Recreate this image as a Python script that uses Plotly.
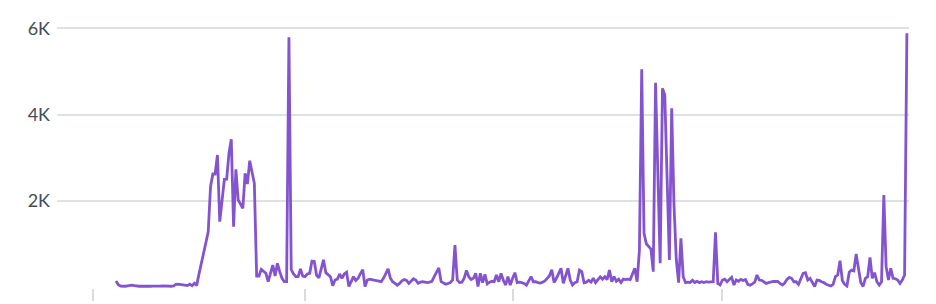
import pandas as pd
import plotly.graph_objects as go

start_date = "2022-10-11"
values = [
    137, 50, 20, 10, 15, 25, 35, 40, 30, 15,
    15, 20, 15, 25, 20, 15, 20, 15, 15, 20,
    25, 20, 25, 20, 15, 25, 60, 65, 55, 60,
    50, 30, 65, 30, 85, 35, 300, 560, 850, 1030,
    1280, 2325, 2620, 2620, 3060, 1513, 2000, 2496, 2500, 3100,
    3424, 1397, 2728, 2016, 1920, 1823, 2635, 2387, 2928, 2650,
    2403, 253, 253, 408, 360, 316, 121, 353, 508, 253,
    547, 353, 200, 121, 121, 5790, 400, 300, 237, 237,
    420, 250, 237, 300, 316, 600, 590, 270, 210, 420,
    630, 330, 290, 237, 30, 160, 180, 300, 200, 300,
    340, 10, 121, 237, 150, 200, 310, 400, 10, 160,
    180, 165, 160, 150, 130, 120, 200, 300, 420, 200,
    121, 80, 40, 82, 140, 170, 150, 82, 150, 190,
    160, 83, 110, 121, 110, 100, 110, 130, 237, 330,
    440, 121, 80, 60, 80, 100, 160, 972, 160, 100,
    110, 200, 380, 237, 170, 200, 315, 10, 315, 100,
    290, 70, 110, 130, 120, 276, 120, 315, 150, 44,
    237, 40, 200, 330, 100, 110, 100, 80, 40, 130,
    237, 120, 120, 100, 90, 110, 140, 199, 260, 400,
    100, 200, 300, 431, 83, 250, 431, 160, 44, 100,
    120, 392, 355, 97, 110, 155, 110, 200, 100, 170,
    235, 180, 237, 170, 392, 120, 240, 130, 180, 100,
    180, 170, 180, 170, 315, 431, 120, 850, 5048, 1243,
    1000, 950, 880, 353, 4738, 2640, 547, 4607, 4452, 2540,
    624, 4143, 1900, 624, 97, 1127, 237, 97, 110, 100,
    155, 100, 130, 100, 120, 100, 120, 110, 110, 120,
    1266, 80, 44, 160, 180, 120, 170, 220, 44, 160,
    130, 175, 150, 170, 60, 40, 70, 110, 276, 160,
    150, 110, 80, 100, 120, 125, 125, 125, 80, 44,
    90, 175, 220, 200, 120, 120, 60, 200, 315, 330,
    160, 200, 120, 10, 160, 150, 120, 100, 60, 30,
    20, 60, 237, 276, 608, 150, 60, 20, 340, 390,
    370, 763, 470, 100, 10, 200, 237, 687, 200, 330,
    120, 44, 120, 2132, 470, 160, 430, 200, 190, 160,
    80, 160, 276, 5883,
]
dates = pd.date_range(start_date, periods=len(values), freq="D")

y_tick_vals = [2000, 4000, 6000]
y_tick_text = ["2K", "4K", "6K"]
x_tick_vals = ["2022-10-01", "2023-01-01", "2023-04-01", "2023-07-01"]

fig = go.Figure(
    go.Scatter(
        x=dates,
        y=values,
        mode="lines",
        line=dict(color="#8454d0", width=2.8),
        hoverinfo="x+y",
    )
)

fig.update_layout(
    width=936,
    height=304,
    margin=dict(l=57, r=27, t=14, b=16, autoexpand=False),
    paper_bgcolor="white",
    plot_bgcolor="white",
    showlegend=False,
    font=dict(family="Lato, 'Open Sans', sans-serif", size=18, color="#474d57"),
)

fig.update_xaxes(
    range=["2022-09-15 10:00", "2023-09-19 22:00"],
    tickvals=x_tick_vals,
    showticklabels=False,
    ticks="outside",
    ticklen=12,
    tickwidth=1.5,
    tickcolor="#d8dde0",
    showgrid=False,
    showline=False,
    zeroline=False,
    automargin=False,
)

fig.update_yaxes(
    range=[-25.5, 6332],
    tickvals=y_tick_vals,
    ticktext=y_tick_text,
    showgrid=True,
    gridcolor="#dde2e4",
    gridwidth=1.5,
    zeroline=False,
    showline=False,
    ticks="",
    ticklabelstandoff=6,
    automargin=False,
)

fig.write_html("out.html")
